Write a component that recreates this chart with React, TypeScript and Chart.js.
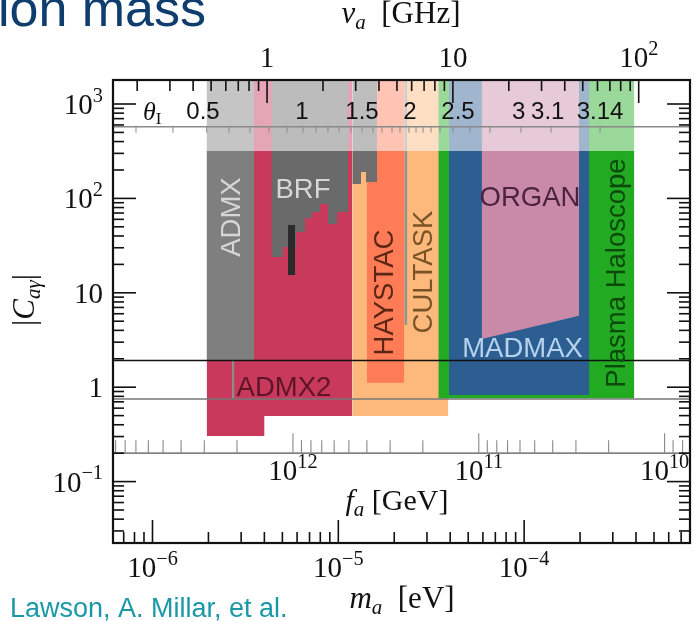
import React, { useEffect, useRef } from "react";
import { Chart, registerables } from "chart.js";
Chart.register(...registerables);

// ---- axis ranges (m_a in eV, |C_ag|) ----
const X_RANGE = [6.13e-7, 7.81e-4];
const Y_RANGE = [0.02236, 1796];

// ---- conversions ----
const NU_GHZ_TO_EV = 4.1357e-6; // m_a = h * nu
const FA_TO_EV = 5.7e6; // m_a [eV] = 5.7e6 GeV / f_a

// ---- reference couplings ----
const KSVZ = 1.92;
const DFSZ = 0.75;
const THETA_LINE = 575;
const FA_LINE = 0.2;
const BAND_BOTTOM = 318;

// ---- exclusion regions: lower edges [m_a, |C|], filled up to the top ----
const cultaskEdge = [[1.189e-5, 0.4955], [3.908e-5, 0.4955]];
const admx2Edge = [[1.957e-6, 0.304], [3.997e-6, 0.304], [3.997e-6, 0.4955], [1.189e-5, 0.4955]];
const brfEdge = [
  [4.37e-6, 23.9], [5.04e-6, 23.9], [5.04e-6, 30.6], [5.92e-6, 30.6], [5.92e-6, 44.1],
  [6.62e-6, 44.1], [6.62e-6, 62.0], [7.22e-6, 62.0], [7.22e-6, 71.8], [7.97e-6, 71.8],
  [7.97e-6, 87.3], [8.8e-6, 87.3], [8.8e-6, 53.6], [9.84e-6, 53.6], [9.84e-6, 71.8], [1.128e-5, 71.8],
];
const brfBar = [[5.6e-6, 52.3], [5.6e-6, 15.4]];
const admxEdge = [[1.957e-6, KSVZ], [3.53e-6, KSVZ]];
const admxSliver = [[2.678e-6, 0.76], [2.762e-6, 0.76]];
const haystacEdge = [[1.422e-5, 1.116], [2.265e-5, 1.116]];
const spikeEdge = [[1.19e-5, 142], [1.325e-5, 142], [1.325e-5, 190], [1.41e-5, 190], [1.41e-5, 149], [1.615e-5, 149]];
const stripEdge = [[2.265e-5, 4.56], [2.352e-5, 4.56]];
const plasmaEdge = [[3.453e-5, 0.763], [3.918e-4, 0.763]];
const madmaxEdge = [[3.943e-5, 0.827], [2.243e-4, 0.827]];
const organEdge = [[5.91e-5, 3.24], [1.974e-4, 5.72]];

// ---- region labels: [text, m_a, |C|, rotated, colour] ----
const regionLabels = [
  ["ADMX", 2.646e-6, 63.5, true, "#d6d6d6"],
  ["BRF", 6.457e-6, 125.8, false, "#d6d6d6"],
  ["ADMX2", 5.1e-6, 1.0, false, "#5e1428"],
  ["HAYSTAC", 1.762e-5, 10.07, true, "#5c2614"],
  ["CULTASK", 2.857e-5, 16.6, true, "#7a5426"],
  ["ORGAN", 1.076e-4, 102.2, false, "#4c2242"],
  ["MADMAX", 9.8e-5, 2.6, false, "#b6d2ee"],
  ["Plasma Haloscope", 3.124e-4, 16.2, true, "#0b4a0b"],
];

// ---- theta_I secondary scale ----
const thetaLabels = ["0.5", "1", "1.5", "2", "2.5", "3", "3.1", "3.14"];
const thetaLabelMass = [1.87e-6, 6.377e-6, 1.341e-5, 2.431e-5, 4.408e-5, 9.35e-5, 1.34e-4, 2.562e-4];
const thetaTickMass = [
  8.15e-7, 1.289e-6, 1.957e-6, 2.58e-6, 3.347e-6, 4.236e-6, 5.295e-6, 6.457e-6, 7.586e-6,
  8.8e-6, 1.009e-5, 1.17e-5, 1.341e-5, 1.538e-5, 1.718e-5, 1.945e-5, 2.148e-5, 2.401e-5,
  2.619e-5, 2.857e-5, 3.154e-5, 3.527e-5, 4.143e-5, 5.114e-5, 6.554e-5, 9.62e-5, 1.396e-4, 2.562e-4,
];

// ---- tick labels ----
const mTickVals = [1e-6, 1e-5, 1e-4];
const mTickLabels = [["10", "−6"], ["10", "−5"], ["10", "−4"]];
const cTickVals = [1000, 100, 10, 1, 0.1];
const cTickLabels = [["10", "3"], ["10", "2"], ["10", ""], ["1", ""], ["10", "−1"]];
const nuTickVals = [1, 10, 100];
const nuTickLabels = [["1", ""], ["10", ""], ["10", "2"]];
const faTickVals = [1e12, 1e11, 1e10];
const faTickLabels = [["10", "12"], ["10", "11"], ["10", "10"]];

const SERIF = "'Liberation Serif', 'DejaVu Serif', serif";
const SANS = "'Liberation Sans', Arial, sans-serif";

function minorsOf(decades: number[], lo: number, hi: number) {
  const out: number[] = [];
  for (const d of decades) for (let k = 2; k <= 9; k++) {
    const v = k * d;
    if (v > lo && v < hi) out.push(v);
  }
  return out;
}

function pts(a: number[][]) {
  return a.map(([x, y]) => ({ x, y }));
}

type Part = { t: string; size: number; italic?: boolean; dy?: number; font?: string };
function drawRich(ctx: CanvasRenderingContext2D, parts: Part[], x: number, y: number, align: string) {
  let total = 0;
  const widths = parts.map((p) => {
    ctx.font = `${p.italic ? "italic " : ""}${p.size}px ${p.font || SERIF}`;
    const w = ctx.measureText(p.t).width;
    total += w;
    return w;
  });
  let cx = align === "center" ? x - total / 2 : align === "right" ? x - total : x;
  ctx.textAlign = "left";
  ctx.textBaseline = "alphabetic";
  parts.forEach((p, i) => {
    ctx.font = `${p.italic ? "italic " : ""}${p.size}px ${p.font || SERIF}`;
    ctx.fillText(p.t, cx, y + (p.dy || 0));
    cx += widths[i];
  });
}
function powParts(base: string, exp: string, size: number): Part[] {
  const p: Part[] = [{ t: base, size }];
  if (exp) p.push({ t: exp, size: size * 0.7, dy: -size * 0.42 });
  return p;
}

const overlay = {
  id: "overlay",
  afterDatasetsDraw(chart: any) {
    const ctx: CanvasRenderingContext2D = chart.ctx;
    const a = chart.chartArea;
    const xs = chart.scales.x, ys = chart.scales.y;
    const X = (m: number) => xs.getPixelForValue(m);
    const Y = (c: number) => ys.getPixelForValue(c);
    ctx.save();

    // region labels
    regionLabels.forEach(([t, m, c, rot, col]: any) => {
      ctx.save();
      ctx.fillStyle = col;
      ctx.font = `27.5px ${SANS}`;
      ctx.textAlign = "center";
      ctx.textBaseline = "middle";
      ctx.translate(X(m), Y(c));
      if (rot) ctx.rotate(-Math.PI / 2);
      ctx.fillText(t, 0, 1);
      ctx.restore();
    });

    // theta_I scale
    const ty = Y(THETA_LINE);
    ctx.strokeStyle = "#8a8a8a";
    ctx.lineWidth = 1.5;
    ctx.beginPath(); ctx.moveTo(a.left, ty); ctx.lineTo(a.right, ty); ctx.stroke();
    ctx.lineWidth = 1;
    thetaTickMass.forEach((m) => {
      ctx.beginPath(); ctx.moveTo(X(m), ty); ctx.lineTo(X(m), ty + 6); ctx.stroke();
    });
    ctx.fillStyle = "#111";
    ctx.font = `24px ${SANS}`;
    ctx.textAlign = "center";
    ctx.textBaseline = "alphabetic";
    thetaLabels.forEach((t, i) => ctx.fillText(t, X(thetaLabelMass[i]), ty - 8));
    drawRich(ctx, [{ t: "θ", size: 26, italic: true }, { t: "I", size: 17, dy: 4 }], 143, ty - 7, "left");

    // f_a scale
    const fy = Y(FA_LINE);
    ctx.strokeStyle = "#555";
    ctx.lineWidth = 1.3;
    ctx.beginPath(); ctx.moveTo(a.left, fy); ctx.lineTo(a.right, fy); ctx.stroke();
    ctx.strokeStyle = "#888";
    ctx.lineWidth = 1.1;
    const faMin = FA_TO_EV / X_RANGE[1], faMax = FA_TO_EV / X_RANGE[0];
    minorsOf([1e9, 1e10, 1e11, 1e12], faMin, faMax).forEach((f) => {
      const x = X(FA_TO_EV / f);
      ctx.beginPath(); ctx.moveTo(x, fy); ctx.lineTo(x, fy - 13); ctx.stroke();
    });
    faTickVals.forEach((f) => {
      const x = X(FA_TO_EV / f);
      ctx.beginPath(); ctx.moveTo(x, fy); ctx.lineTo(x, fy - 20); ctx.stroke();
    });
    ctx.fillStyle = "#111";
    faTickVals.forEach((f, i) => {
      drawRich(ctx, powParts(faTickLabels[i][0], faTickLabels[i][1], 29), X(FA_TO_EV / f), fy + 27, "center");
    });
    drawRich(ctx, [{ t: "f", size: 30, italic: true }, { t: "a", size: 21, italic: true, dy: 6 }, { t: " [GeV]", size: 30 }], 397, fy + 57, "center");

    // frame ticks
    ctx.strokeStyle = "#111";
    ctx.lineWidth = 1.6;
    const line = (x1: number, y1: number, x2: number, y2: number) => {
      ctx.beginPath(); ctx.moveTo(x1, y1); ctx.lineTo(x2, y2); ctx.stroke();
    };
    const mMin = minorsOf([1e-7, 1e-6, 1e-5, 1e-4], X_RANGE[0], X_RANGE[1]);
    mMin.forEach((m) => line(X(m), a.bottom, X(m), a.bottom - 11));
    mTickVals.forEach((m) => line(X(m), a.bottom, X(m), a.bottom - 23));
    const nuMin = minorsOf([0.1, 1, 10, 100], X_RANGE[0] / NU_GHZ_TO_EV, X_RANGE[1] / NU_GHZ_TO_EV);
    nuMin.forEach((n) => line(X(n * NU_GHZ_TO_EV), a.top, X(n * NU_GHZ_TO_EV), a.top + 11));
    nuTickVals.forEach((n) => line(X(n * NU_GHZ_TO_EV), a.top, X(n * NU_GHZ_TO_EV), a.top + 23));
    const cMin = minorsOf([0.01, 0.1, 1, 10, 100, 1000], Y_RANGE[0], Y_RANGE[1]);
    cMin.forEach((c) => { line(a.left, Y(c), a.left + 11, Y(c)); line(a.right, Y(c), a.right - 11, Y(c)); });
    cTickVals.forEach((c) => { line(a.left, Y(c), a.left + 23, Y(c)); line(a.right, Y(c), a.right - 23, Y(c)); });

    // frame
    ctx.lineWidth = 2.2;
    ctx.strokeRect(a.left, a.top, a.right - a.left, a.bottom - a.top);

    // tick labels
    ctx.fillStyle = "#111";
    mTickVals.forEach((m, i) => drawRich(ctx, powParts(mTickLabels[i][0], mTickLabels[i][1], 29), X(m), a.bottom + 34, "center"));
    cTickVals.forEach((c, i) => drawRich(ctx, powParts(cTickLabels[i][0], cTickLabels[i][1], 29), 103, Y(c) + 10, "right"));
    nuTickVals.forEach((n, i) => drawRich(ctx, powParts(nuTickLabels[i][0], nuTickLabels[i][1], 29), X(n * NU_GHZ_TO_EV), 67, "center"));

    // axis titles
    drawRich(ctx, [{ t: "ν", size: 31, italic: true }, { t: "a", size: 21, italic: true, dy: 6 }, { t: "  [GHz]", size: 31 }], 401, 23, "center");
    drawRich(ctx, [{ t: "m", size: 31, italic: true }, { t: "a", size: 21, italic: true, dy: 6 }, { t: "  [eV]", size: 31 }], 402, 608, "center");
    ctx.save();
    ctx.translate(34, 300);
    ctx.rotate(-Math.PI / 2);
    drawRich(ctx, [{ t: "|", size: 31 }, { t: "C", size: 31, italic: true }, { t: "aγ", size: 21, italic: true, dy: 6 }, { t: "|", size: 31 }], 0, 0, "center");
    ctx.restore();

    // slide texts
    ctx.fillStyle = "#0f3d6e";
    ctx.font = `52px ${SANS}`;
    ctx.textAlign = "right";
    ctx.fillText("ion mass", 206, 26);
    ctx.fillStyle = "#1b98a8";
    ctx.font = `27px ${SANS}`;
    ctx.textAlign = "left";
    ctx.fillText("Lawson, A. Millar, et al.", 10, 617);
    ctx.restore();
  },
};

export default function App() {
  const ref = useRef<HTMLCanvasElement>(null);
  useEffect(() => {
    if (!ref.current) return;
    const region = (data: number[][], color: string) => ({
      data: pts(data), backgroundColor: color, borderColor: "transparent", borderWidth: 0,
      fill: "end", pointRadius: 0, tension: 0,
    });
    const hline = (c: number, color: string, w: number) => ({
      data: pts([[X_RANGE[0], c], [X_RANGE[1], c]]), borderColor: color, borderWidth: w,
      fill: false, pointRadius: 0,
    });
    const list: any[] = [
      region(cultaskEdge, "#fdb97c"),
      region(admx2Edge, "#c8395c"),
      region(admxSliver, "#8c8c8c"),
      region(brfEdge, "#6a6a6a"),
      { data: pts(brfBar), borderColor: "#2b2b2b", borderWidth: 7, borderCapStyle: "butt", fill: false, pointRadius: 0 },
      region(admxEdge, "#7f7f7f"),
      region(haystacEdge, "#ff7c57"),
      region(spikeEdge, "#6e6e6e"),
      region(stripEdge, "#939393"),
      region(plasmaEdge, "#22aa22"),
      region(madmaxEdge, "#2d5e92"),
      region(organEdge, "#c98aa8"),
      region([[X_RANGE[0], BAND_BOTTOM], [X_RANGE[1], BAND_BOTTOM]], "rgba(255,255,255,0.55)"),
      hline(KSVZ, "#111", 1.6),
      hline(DFSZ, "#777", 1.3),
    ];
    const datasets = list.map((d, i) => ({ ...d, order: -i }));
    const chart = new Chart(ref.current, {
      type: "line",
      data: { datasets },
      options: {
        animation: false,
        responsive: false,
        devicePixelRatio: 1,
        layout: { padding: { left: 113, top: 80, right: 4, bottom: 78 } },
        scales: {
          x: { type: "logarithmic", min: X_RANGE[0], max: X_RANGE[1], display: false },
          y: { type: "logarithmic", min: Y_RANGE[0], max: Y_RANGE[1], display: false },
        },
        plugins: { legend: { display: false }, tooltip: { enabled: false }, filler: { propagate: false } },
        elements: { line: { tension: 0 } },
      } as any,
      plugins: [overlay],
    });
    return () => chart.destroy();
  }, []);
  return (
    <div style={{ position: "absolute", left: 0, top: 0, width: 694, height: 621, background: "#fff" }}>
      <canvas ref={ref} width={694} height={621} style={{ width: 694, height: 621, display: "block" }} />
    </div>
  );
}
